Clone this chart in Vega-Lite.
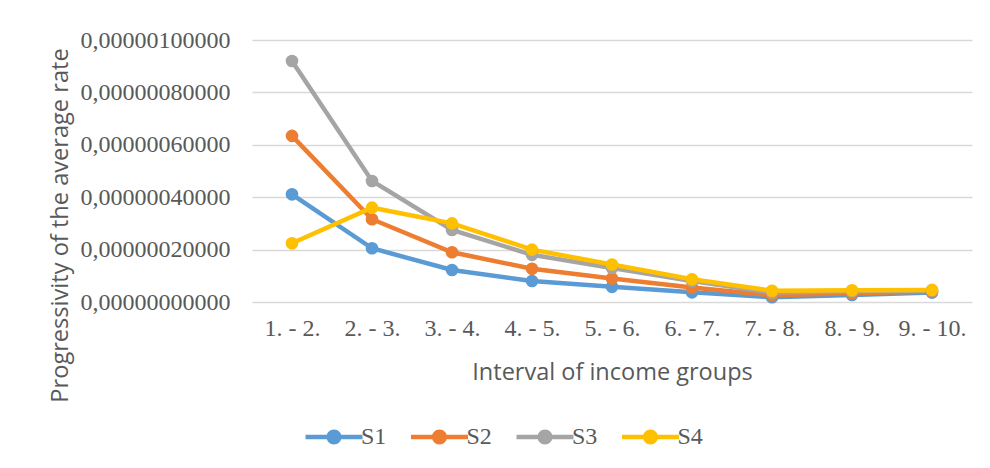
{
  "$schema": "https://vega.github.io/schema/vega-lite/v6.json",
  "width": 720,
  "height": 262,
  "autosize": {"type": "none"},
  "padding": {"left": 252, "top": 40, "right": 18, "bottom": 166},
  "background": "white",
  "config": {
    "view": {"stroke": null},
    "axis": {"labelColor": "#595959", "titleColor": "#595959", "titleFontWeight": "normal"}
  },
  "data": {
    "values": [
      {"interval": "1. - 2.", "series": "S1", "value": 4.11e-7},
      {"interval": "2. - 3.", "series": "S1", "value": 2.05e-7},
      {"interval": "3. - 4.", "series": "S1", "value": 1.22e-7},
      {"interval": "4. - 5.", "series": "S1", "value": 0.80e-7},
      {"interval": "5. - 6.", "series": "S1", "value": 0.58e-7},
      {"interval": "6. - 7.", "series": "S1", "value": 0.37e-7},
      {"interval": "7. - 8.", "series": "S1", "value": 0.18e-7},
      {"interval": "8. - 9.", "series": "S1", "value": 0.27e-7},
      {"interval": "9. - 10.", "series": "S1", "value": 0.36e-7},
      {"interval": "1. - 2.", "series": "S2", "value": 6.34e-7},
      {"interval": "2. - 3.", "series": "S2", "value": 3.16e-7},
      {"interval": "3. - 4.", "series": "S2", "value": 1.90e-7},
      {"interval": "4. - 5.", "series": "S2", "value": 1.27e-7},
      {"interval": "5. - 6.", "series": "S2", "value": 0.90e-7},
      {"interval": "6. - 7.", "series": "S2", "value": 0.55e-7},
      {"interval": "7. - 8.", "series": "S2", "value": 0.26e-7},
      {"interval": "8. - 9.", "series": "S2", "value": 0.33e-7},
      {"interval": "9. - 10.", "series": "S2", "value": 0.40e-7},
      {"interval": "1. - 2.", "series": "S3", "value": 9.20e-7},
      {"interval": "2. - 3.", "series": "S3", "value": 4.62e-7},
      {"interval": "3. - 4.", "series": "S3", "value": 2.75e-7},
      {"interval": "4. - 5.", "series": "S3", "value": 1.80e-7},
      {"interval": "5. - 6.", "series": "S3", "value": 1.30e-7},
      {"interval": "6. - 7.", "series": "S3", "value": 0.80e-7},
      {"interval": "7. - 8.", "series": "S3", "value": 0.36e-7},
      {"interval": "8. - 9.", "series": "S3", "value": 0.41e-7},
      {"interval": "9. - 10.", "series": "S3", "value": 0.44e-7},
      {"interval": "1. - 2.", "series": "S4", "value": 2.24e-7},
      {"interval": "2. - 3.", "series": "S4", "value": 3.60e-7},
      {"interval": "3. - 4.", "series": "S4", "value": 3.00e-7},
      {"interval": "4. - 5.", "series": "S4", "value": 2.00e-7},
      {"interval": "5. - 6.", "series": "S4", "value": 1.43e-7},
      {"interval": "6. - 7.", "series": "S4", "value": 0.87e-7},
      {"interval": "7. - 8.", "series": "S4", "value": 0.43e-7},
      {"interval": "8. - 9.", "series": "S4", "value": 0.45e-7},
      {"interval": "9. - 10.", "series": "S4", "value": 0.46e-7}
    ]
  },
  "encoding": {
    "x": {
      "field": "interval", "type": "ordinal", "sort": null,
      "scale": {"type": "point", "padding": 0.5},
      "axis": {
        "title": "Interval of income groups",
        "titleFont": "Open Sans", "titleFontSize": 23.5, "titlePadding": 20,
        "labelFont": "Liberation Serif, Times New Roman, serif", "labelFontSize": 24, "labelAngle": 0, "labelPadding": 14,
        "domain": false, "ticks": false, "grid": false
      }
    },
    "y": {
      "field": "value", "type": "quantitative",
      "scale": {"domain": [0, 1e-6], "nice": false},
      "axis": {
        "title": "Progressivity of the average rate",
        "titleFont": "Open Sans", "titleFontSize": 23.6, "titlePadding": 8, "titleY": 185,
        "labelFont": "Liberation Serif, Times New Roman, serif", "labelFontSize": 24, "labelPadding": 22,
        "values": [0, 2e-7, 4e-7, 6e-7, 8e-7, 1e-6],
        "labelExpr": "replace(format(datum.value, '.11f'), '.', ',')",
        "domain": false, "ticks": false,
        "grid": true, "gridColor": "#D9D9D9", "gridWidth": 1.5
      }
    },
    "color": {
      "field": "series", "type": "nominal",
      "scale": {"domain": ["S1", "S2", "S3", "S4"], "range": ["#5B9BD5", "#ED7D31", "#A5A5A5", "#FFC000"]},
      "legend": {
        "title": null, "orient": "none", "legendX": 41.5, "legendY": 385, "direction": "horizontal",
        "labelFont": "Liberation Serif, Times New Roman, serif", "labelFontSize": 24, "labelColor": "#595959",
        "symbolType": "M 0 -0.45 H 11.4 V 0.45 H 0 Z M 7.2 0 A 1.5 1.5 0 1 1 4.2 0 A 1.5 1.5 0 1 1 7.2 0 Z",
        "symbolSize": 100, "symbolStrokeWidth": 0, "symbolOpacity": 1,
        "labelOffset": 43.5, "columnPadding": 12.5
      }
    }
  },
  "layer": [
    {"mark": {"type": "line", "strokeWidth": 4.5}},
    {"mark": {"type": "point", "filled": true, "size": 160, "opacity": 1}}
  ]
}
